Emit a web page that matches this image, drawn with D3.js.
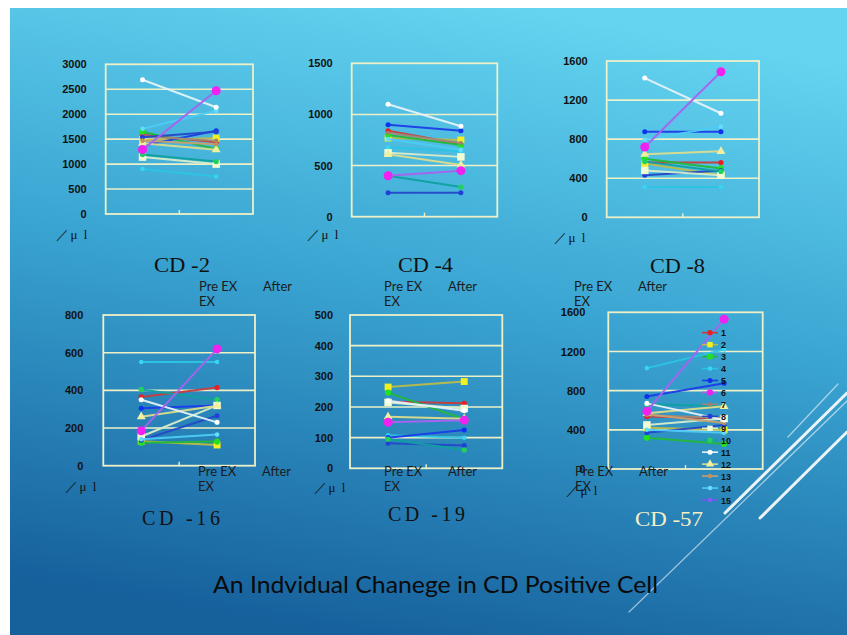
<!DOCTYPE html>
<html>
<head>
<meta charset="utf-8">
<script src="https://cdn.jsdelivr.net/npm/d3@7"></script>
<style>
  html, body { margin: 0; padding: 0; background: #ffffff; }
  svg { display: block; }
</style>
</head>
<body>
<svg id="chart" width="847" height="635"></svg>
<script>
// ---------------- DATA ----------------
const categories = ["Pre EX", "After"];
const categoryLines = [["Pre EX", "EX"], ["After"]];
const panelTitles = ["CD -2", "CD -4", "CD -8", "CD -16", "CD -19", "CD -57"];
const yMaxValues = [3000, 1500, 1600, 800, 500, 1600];
const yTicks2 = [0, 500, 1000, 1500, 2000, 2500, 3000];
const yTicks4 = [0, 500, 1000, 1500];
const yTicks8 = [0, 400, 800, 1200, 1600];
const yTicks16 = [0, 200, 400, 600, 800];
const yTicks19 = [0, 100, 200, 300, 400, 500];
const yTicks57 = [0, 400, 800, 1200, 1600];
const seriesNames = ["1","2","3","4","5","6","7","8","9","10","11","12","13","14","15"];
const unitLabel = "／μ l";
const mainTitle = "An Indvidual Chanege in CD Positive Cell";

// values per subject (series 1..15), null = not plotted
const cd2Pre    = [1590, 1490, 1650,  900, 1370, 1290, 1560, 1540, 1140, 1190, 2690, 1420, 1470, 1710, null];
const cd2After  = [1440, 1520, 1300,  750, 1670, 2470, 1470, 1650, 1000, 1050, 2140, 1290, 1400, 2070, null];
const cd4Pre    = [ 840,  770,  800,  680,  900,  400,  820,  235,  625,  400, 1100,  610, null,  760, null];
const cd4After  = [ 710,  750,  700,  640,  840,  450,  720,  235,  585,  290,  885,  505, null,  655, null];
const cd8Pre    = [ 560,  550,  600,  310,  875,  720, null,  430,  480,  570, 1425,  645, null,  795, null];
const cd8After  = [ 560,  430,  500,  310,  875, 1490, null,  480,  430,  470, 1065,  675, null,  930, null];
const cd16Pre   = [ 365,  130,  122,  550,  305,  185, null,  135,  155,  405,  350,  260, null,  140, null];
const cd16After = [ 415,  110,  128,  550,  320,  620, null,  265,  320,  350,  230,  318, null,  165, null];
const cd19Pre   = [ 217,  265,  247,  108,  100,  150, null,   82,  215,   95,  220,  168, null, null, null];
const cd19After = [ 212,  283,  160,  100,  125,  157, null,   74,  195,   60,  188,  162, null, null, null];
const cd57Pre   = [ 535,  420,  320, 1030,  740,  590,  550,  370,  450,  660,  670,  570,  560,  400, null];
const cd57After = [ 515,  400,  255, 1220,  875, 1530,  520,  450,  515,  640,  500,  640,  470,  370, null];

// ---------------- STYLE / LAYOUT ----------------
const lineColors   = ["#c83c3c","#bcbc48","#22b83a","#2cc4e4","#1a3ce8","#a862f0","#a08878","#2448c8","#d8ecc8","#12a0a0","#e4f2fa","#dcdc8c","#c8a070","#4cccf6","#7058e8"];
const markerColors = ["#e62020","#f2f020","#22e022","#38d4f4","#1030f0","#f020f0","#a08070","#2040d8","#f2fad4","#22d060","#ffffff","#f2f0a0","#c09060","#64dcff","#8060f0"];
const markerShapes = ["circle","square","circle","circle","circle","circle","circle","circle","square","circle","circle","triangle","circle","circle","circle"];
const markerSizes  = [22, 48, 30, 16, 20, 64, 14, 20, 56, 22, 20, 34, 16, 16, 16];

const layout = [
  {x0:105.7, x1:253.0, y0:64.3, y1:214.0, lab:19, tx:154, ty:272, tw:56, adj:"spacingAndGlyphs", cx:199, cy:291, ux:56, uy:239, titleColor:"#111"},
  {x0:351.7, x1:497.3, y0:63.3, y1:216.7, lab:19, tx:398, ty:272, tw:55, adj:"spacingAndGlyphs", cx:384, cy:291, ux:307, uy:239, titleColor:"#111"},
  {x0:606.7, x1:759.0, y0:61.0, y1:217.3, lab:19, tx:650, ty:273, tw:55, adj:"spacingAndGlyphs", cx:574, cy:291, ux:554, uy:242, titleColor:"#111"},
  {x0:103.3, x1:255.0, y0:315.0, y1:465.7, lab:20, tx:142, ty:525, tw:78, adj:"spacing", cx:198, cy:476, ux:65, uy:491, titleColor:"#111"},
  {x0:350.0, x1:502.3, y0:315.0, y1:468.3, lab:17, tx:388, ty:521, tw:77, adj:"spacing", cx:384, cy:476, ux:314, uy:492, titleColor:"#111"},
  {x0:608.3, x1:762.7, y0:312.3, y1:469.0, lab:23, tx:635, ty:526, tw:68, adj:"spacingAndGlyphs", cx:575, cy:476, ux:566, uy:495, titleColor:"#f4f0c4"}
];

const panels = [
  {pre: cd2Pre,  after: cd2After,  ticks: yTicks2},
  {pre: cd4Pre,  after: cd4After,  ticks: yTicks4},
  {pre: cd8Pre,  after: cd8After,  ticks: yTicks8},
  {pre: cd16Pre, after: cd16After, ticks: yTicks16},
  {pre: cd19Pre, after: cd19After, ticks: yTicks19},
  {pre: cd57Pre, after: cd57After, ticks: yTicks57}
];

// ---------------- DRAW ----------------
const svg = d3.select("#chart");
const W = 847, H = 635;
const defs = svg.append("defs");
const grad = defs.append("linearGradient").attr("id","bg")
  .attr("x1","0.62").attr("y1","0").attr("x2","0.38").attr("y2","1");
grad.append("stop").attr("offset","0").attr("stop-color","#64d4f0");
grad.append("stop").attr("offset","0.45").attr("stop-color","#3aa5d2");
grad.append("stop").attr("offset","1").attr("stop-color","#16609c");
defs.append("filter").attr("id","soft").attr("x","-5%").attr("y","-5%").attr("width","110%").attr("height","110%")
  .append("feGaussianBlur").attr("stdDeviation", 0.45);

svg.append("rect").attr("x",0).attr("y",0).attr("width",W).attr("height",H).attr("fill","#ffffff");
svg.append("rect").attr("x",10).attr("y",8).attr("width",W-10).attr("height",H-8).attr("fill","url(#bg)");

// decorative diagonal lines
const deco = [
  {x1:725, y1:513, x2:847, y2:393, w:3, o:0.9},
  {x1:629, y1:612, x2:847, y2:401, w:1.3, o:0.55},
  {x1:760, y1:518, x2:847, y2:432, w:3, o:0.9},
  {x1:788, y1:437, x2:838, y2:384, w:1.3, o:0.55}
];
svg.append("g").selectAll("line").data(deco).join("line")
  .attr("x1",d=>d.x1).attr("y1",d=>d.y1).attr("x2",d=>d.x2).attr("y2",d=>d.y2)
  .attr("stroke","#ffffff").attr("stroke-opacity",d=>d.o).attr("stroke-width",d=>d.w)
  .attr("stroke-linecap","round");

const gridColor = "#eef0c8";
const symbolTypes = {circle: d3.symbolCircle, square: d3.symbolSquare, triangle: d3.symbolTriangle};

panels.forEach((p, i) => {
  const L = layout[i];
  const g = svg.append("g");
  const x = d3.scaleBand().domain(categories).range([L.x0, L.x1]).padding(0);
  const y = d3.scaleLinear().domain([0, yMaxValues[i]]).range([L.y1, L.y0]);
  const cx = c => x(c) + x.bandwidth() / 2;

  // gridlines
  g.append("g").selectAll("line").data(p.ticks.filter(t => t > 0 && t < yMaxValues[i])).join("line")
    .attr("x1", L.x0).attr("x2", L.x1).attr("y1", d => y(d)).attr("y2", d => y(d))
    .attr("stroke", gridColor).attr("stroke-width", 1.6);
  // frame
  g.append("rect").attr("x", L.x0).attr("y", L.y0).attr("width", L.x1 - L.x0).attr("height", L.y1 - L.y0)
    .attr("fill", "none").attr("stroke", gridColor).attr("stroke-width", 1.8);
  // middle category tick
  g.append("line").attr("x1", x(categories[1])).attr("x2", x(categories[1]))
    .attr("y1", L.y1).attr("y2", L.y1 - 4).attr("stroke", gridColor).attr("stroke-width", 1.4);

  // y axis labels
  const ax = g.append("g").attr("transform", `translate(${L.x0},0)`)
    .call(d3.axisLeft(y).tickValues(p.ticks).tickSize(0).tickPadding(L.lab).tickFormat(d3.format("d")));
  ax.select(".domain").remove();
  ax.selectAll("text").attr("fill", "#111").attr("font-family", "'Liberation Sans', Arial, sans-serif")
    .attr("font-size", 11).attr("font-weight", "bold");

  // series lines + markers
  const marks = g.append("g").attr("filter", "url(#soft)");
  const order = d3.range(15).filter(k => k !== 5 && k !== 10).concat([10, 5]);
  order.forEach(k => {
    const a = p.pre[k], b = p.after[k];
    if (a == null || b == null) return;
    const pts = [[cx(categories[0]), y(a)], [cx(categories[1]), y(b)]];
    marks.append("path").attr("d", d3.line()(pts)).attr("fill", "none")
      .attr("stroke", lineColors[k]).attr("stroke-width", 2).attr("stroke-opacity", 0.95);
    marks.append("g").selectAll("path").data(pts).join("path")
      .attr("transform", d => `translate(${d[0]},${d[1]})`)
      .attr("d", d3.symbol().type(symbolTypes[markerShapes[k]]).size(markerSizes[k]))
      .attr("fill", markerColors[k]);
  });

  // category labels
  categoryLines.forEach((lines, ci) => {
    lines.forEach((t, li) => {
      svg.append("text").attr("x", L.cx + ci * 64).attr("y", L.cy + li * 15)
        .attr("font-family", "Lato, 'Open Sans', sans-serif").attr("font-size", 13)
        .attr("fill", "#1c1c1c").text(t);
    });
  });

  // unit label
  svg.append("text").attr("x", L.ux).attr("y", L.uy)
    .attr("font-family", "'Liberation Serif', serif").attr("font-size", 13)
    .attr("letter-spacing", 1.5).attr("fill", "#111").text(unitLabel);

  // panel title
  svg.append("text").attr("x", L.tx).attr("y", L.ty)
    .attr("font-family", "'Liberation Serif', 'Times New Roman', serif").attr("font-size", 20)
    .attr("textLength", L.tw).attr("lengthAdjust", L.adj)
    .attr("fill", L.titleColor).text(panelTitles[i]);
});

// legend (in CD-57 panel)
const leg = svg.append("g");
seriesNames.forEach((n, k) => {
  const yy = 332.7 + k * 11.95;
  leg.append("line").attr("x1", 702).attr("x2", 718).attr("y1", yy).attr("y2", yy)
    .attr("stroke", lineColors[k]).attr("stroke-width", 1.6);
  leg.append("path").attr("transform", `translate(710,${yy})`)
    .attr("d", d3.symbol().type(symbolTypes[markerShapes[k]]).size(Math.min(markerSizes[k], 30)))
    .attr("fill", markerColors[k]);
  leg.append("text").attr("x", 721).attr("y", yy + 3.5).attr("font-family", "'Liberation Sans', sans-serif")
    .attr("font-size", 9).attr("font-weight", "bold").attr("fill", "#111").text(n);
});

// main title
svg.append("text").attr("x", 435.5).attr("y", 593).attr("text-anchor", "middle")
  .attr("font-family", "Lato, 'Open Sans', sans-serif").attr("font-size", 24)
  .attr("textLength", 445).attr("lengthAdjust", "spacingAndGlyphs")
  .attr("fill", "#0a0a0a").text(mainTitle);
</script>
</body>
</html>
